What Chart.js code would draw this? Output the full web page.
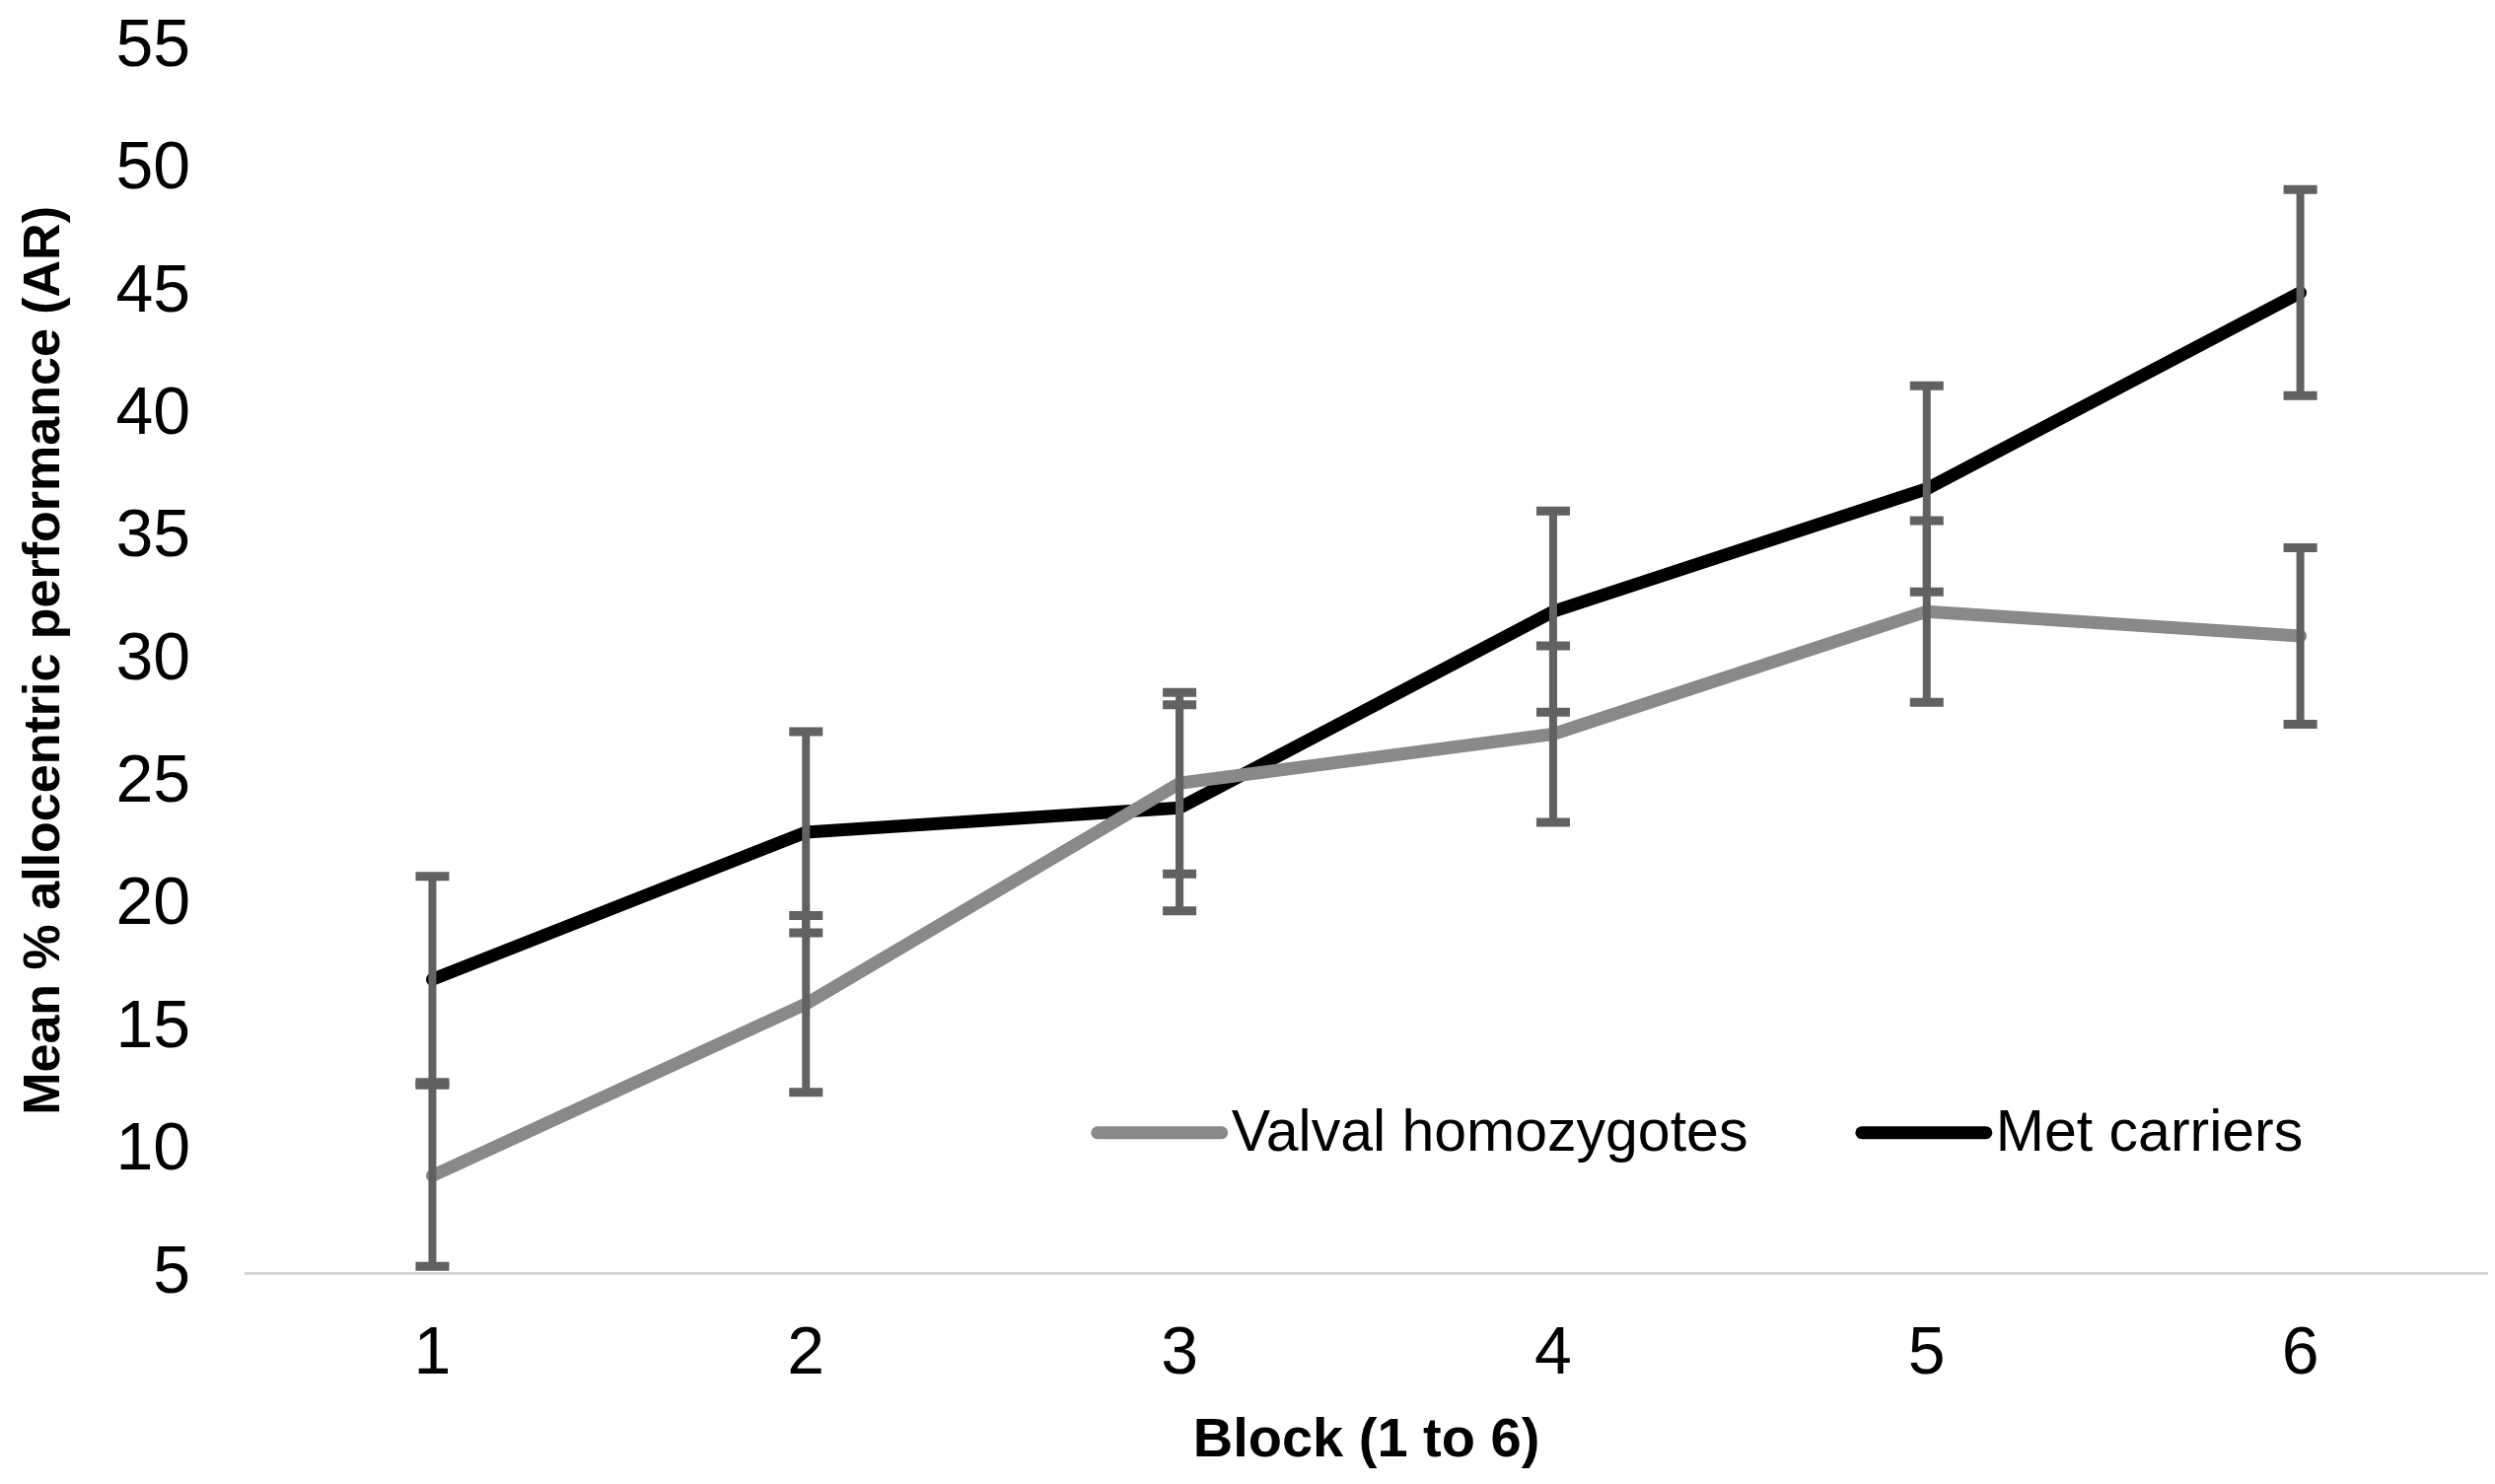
<!DOCTYPE html>
<html>
<head>
<meta charset="utf-8">
<script src="https://cdn.jsdelivr.net/npm/chart.js@4/dist/chart.umd.min.js"></script>
<style>
html,body{margin:0;padding:0;background:#fff;}
#wrap{width:2530px;height:1505px;}
</style>
</head>
<body>
<div id="wrap"><canvas id="c" width="2530" height="1505"></canvas></div>
<script>
const blocks = ['1','2','3','4','5','6'];
const valvalMeans = [9, 16, 25, 27, 32, 31];
const valvalErrors = [3.7, 3.6, 3.7, 3.6, 3.7, 3.6];
const metMeans = [17, 23, 24, 32, 37, 45];
const metErrors = [4.2, 4.1, 4.2, 4.1, 4.2, 4.2];
const seriesNames = ['Valval homozygotes', 'Met carriers'];
const yTitle = 'Mean % allocentric performance (AR)';
const xTitle = 'Block (1 to 6)';

const errorBarPlugin = {
  id: 'errorBars',
  afterDatasetsDraw(chart) {
    const ctx = chart.ctx;
    const xs = chart.scales.x, ys = chart.scales.y;
    ctx.save();
    ctx.strokeStyle = '#616161';
    chart.data.datasets.forEach((ds) => {
      const errs = ds.errors;
      ds.data.forEach((v, i) => {
        const x = xs.getPixelForValue(i);
        const yTop = ys.getPixelForValue(v + errs[i]);
        const yBot = ys.getPixelForValue(v - errs[i]);
        ctx.lineWidth = 8;
        ctx.beginPath();
        ctx.moveTo(x, yTop); ctx.lineTo(x, yBot); ctx.stroke();
        ctx.lineWidth = 9;
        ctx.beginPath();
        ctx.moveTo(x - 17, yTop); ctx.lineTo(x + 17, yTop);
        ctx.moveTo(x - 17, yBot); ctx.lineTo(x + 17, yBot);
        ctx.stroke();
      });
    });
    ctx.restore();
  }
};

const legendPlugin = {
  id: 'insideLegend',
  afterDraw(chart) {
    const ctx = chart.ctx;
    const a = chart.chartArea;
    const w = a.right - a.left, h = a.bottom - a.top;
    const y = a.top + h * 0.885;
    const starts = [a.left + w * 0.380, a.left + w * 0.721];
    ctx.save();
    ctx.font = '59px "Liberation Sans", Arial, sans-serif';
    ctx.textBaseline = 'middle';
    ctx.textAlign = 'left';
    chart.data.datasets.forEach((ds, i) => {
      const x0 = starts[i];
      ctx.strokeStyle = ds.borderColor;
      ctx.lineWidth = 13;
      ctx.lineCap = 'round';
      ctx.beginPath();
      ctx.moveTo(x0, y); ctx.lineTo(x0 + 126, y); ctx.stroke();
      ctx.fillStyle = '#000';
      ctx.fillText(ds.label, x0 + 136, y + 2);
    });
    ctx.restore();
  }
};

new Chart(document.getElementById('c'), {
  type: 'line',
  data: {
    labels: blocks,
    datasets: [
      { label: seriesNames[0], data: valvalMeans, errors: valvalErrors,
        borderColor: '#898989', backgroundColor: '#898989', borderWidth: 13,
        pointRadius: 0, tension: 0, borderJoinStyle: 'round', borderCapStyle: 'round' },
      { label: seriesNames[1], data: metMeans, errors: metErrors,
        borderColor: '#000000', backgroundColor: '#000000', borderWidth: 13,
        pointRadius: 0, tension: 0, borderJoinStyle: 'round', borderCapStyle: 'round' }
    ]
  },
  options: {
    responsive: false,
    animation: false,
    devicePixelRatio: 1,
    layout: { padding: { top: 48, right: 8, left: 14, bottom: 10 } },
    plugins: { legend: { display: false }, tooltip: { enabled: false } },
    scales: {
      x: {
        offset: true,
        afterFit: (s) => { s.height += 44; },
        grid: { display: true, drawOnChartArea: false, drawTicks: true, tickLength: 48, color: 'rgba(0,0,0,0)', tickColor: 'rgba(0,0,0,0)' },
        border: { display: true, color: '#d9d9d9', width: 3 },
        ticks: { color: '#000', padding: 0, font: { family: '"Liberation Sans", Arial, sans-serif', size: 68, lineHeight: 1.0 } },
        title: { display: true, text: xTitle, color: '#000', padding: { top: -24, bottom: 0 },
          font: { family: '"Liberation Sans", Arial, sans-serif', size: 56, weight: 'bold' } }
      },
      y: {
        min: 5, max: 55,
        afterFit: (s) => { s.width += 56; },
        grid: { display: true, drawOnChartArea: false, drawTicks: true, tickLength: 56, color: 'rgba(0,0,0,0)', tickColor: 'rgba(0,0,0,0)' },
        border: { display: false },
        ticks: { stepSize: 5, color: '#000', padding: 0, font: { family: '"Liberation Sans", Arial, sans-serif', size: 68 } },
        title: { display: true, text: yTitle, color: '#000', padding: { top: 0, bottom: -15 },
          font: { family: '"Liberation Sans", Arial, sans-serif', size: 52, weight: 'bold' } }
      }
    }
  },
  plugins: [errorBarPlugin, legendPlugin]
});
</script>
</body>
</html>
